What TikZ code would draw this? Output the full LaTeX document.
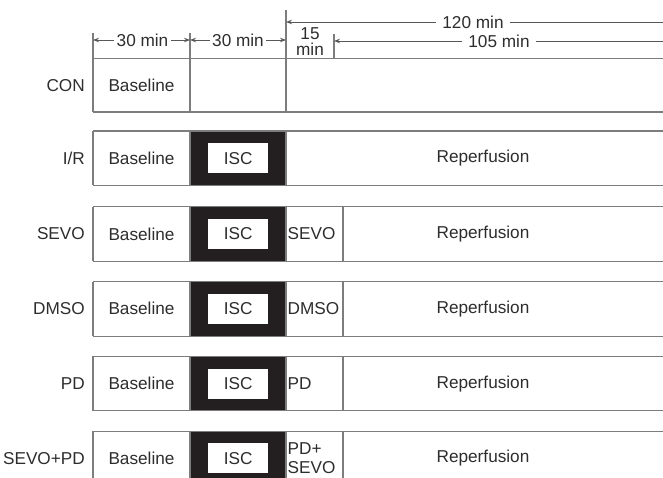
\documentclass[tikz,border=0pt]{standalone}
\usepackage{fontspec}
\setmainfont{Liberation Sans}
\usetikzlibrary{arrows.meta}
\definecolor{ln}{RGB}{125,125,125}
\definecolor{iscfill}{RGB}{35,31,32}
\definecolor{tx}{RGB}{45,45,45}
\tikzset{
  grid/.style={draw=ln,line width=1.1pt},
  lbl/.style={font=\fontsize{17.2}{17}\selectfont, text=tx, inner sep=2pt},
  dim/.style={draw=ln!70!black, line width=0.9pt},
  dimarrow/.style={dim,-{Stealth[length=6pt,width=4.5pt]}},
  iscbox/.style={lbl, fill=white, minimum width=60pt, minimum height=30pt, inner sep=0pt}
}
\newcommand\myrow[5]{% #1 id, #2 top y, #3 label, #4 treatment, #5 divider (1/0)
  \pgfmathsetmacro\yb{#2+54.5}
  \pgfmathsetmacro\ym{#2+27.25}
  \fill[iscfill] (190,#2) rectangle (286,\yb);
  \draw[grid] (93,#2) -- (700,#2) (93,\yb) -- (700,\yb)
              (93,#2) -- (93,\yb) (190,#2) -- (190,\yb) (286,#2) -- (286,\yb);
  \ifnum#5=1 \draw[grid] (343,#2) -- (343,\yb); \fi
  \node[lbl, anchor=east] (lab#1) at (87,\ym) {#3};
  \node[lbl] (base#1) at (141.5,\ym) {Baseline};
  \node[iscbox] (isc#1) at (238.3,\ym) {ISC};
  \node[lbl, anchor=west, align=left, inner sep=1pt, font=\fontsize{17.2}{19}\selectfont] (trt#1) at (286.5,\ym) {#4};
  \node[lbl] (rep#1) at (483,\ym) {Reperfusion};
}
\begin{document}
\begin{tikzpicture}[x=1pt,y=-1pt]
\useasboundingbox (0,0) rectangle (663,478);
\clip (0,0) rectangle (663,478);

% dimension ticks and coordinates
\coordinate (tkA) at (93,40);
\coordinate (tkB) at (190,40);
\coordinate (tkC) at (286,40);
\coordinate (tkD) at (286,22);
\coordinate (tkE) at (334,41);
\coordinate (endA) at (700,22);
\coordinate (endB) at (700,41);

% CON row
\draw[grid] (93,58.7) -- (700,58.7) (93,112) -- (700,112);
\draw[grid] (93,33) -- (93,112) (190,33) -- (190,112) (286,10) -- (286,112) (334,34) -- (334,58.7);
\node[lbl, anchor=east] (labCON) at (87,85.5) {CON};
\node[lbl] (baseCON) at (141.5,85.5) {Baseline};

% dimension labels
\node[lbl] (d1) at (142.5,40) {30 min};
\node[lbl] (d2) at (238,40) {30 min};
\node[lbl, align=center, font=\fontsize{17.2}{16}\selectfont, inner sep=0pt] (d3) at (310,42) {15\\min};
\node[lbl, inner xsep=6pt] (d4) at (473,22) {120 min};
\node[lbl, inner xsep=6pt] (d5) at (499,41) {105 min};
\draw[dimarrow] (d1.west) -- (tkA);
\draw[dimarrow] (d1.east) -- (tkB);
\draw[dimarrow] (d2.west) -- (tkB);
\draw[dimarrow] (d2.east) -- (tkC);
\draw[dimarrow] (d4.west) -- (tkD);
\draw[dim] (d4.east) -- (endA);
\draw[dimarrow] (d5.west) -- (tkE);
\draw[dim] (d5.east) -- (endB);

% treatment rows
\myrow{IR}{131}{I/R}{}{0}
\myrow{SEVO}{206.8}{SEVO}{SEVO}{1}
\myrow{DMSO}{281.6}{DMSO}{DMSO}{1}
\myrow{PD}{356.4}{PD}{PD}{1}
\myrow{SP}{431.2}{SEVO+PD}{PD+\\SEVO}{1}
\end{tikzpicture}
\end{document}
